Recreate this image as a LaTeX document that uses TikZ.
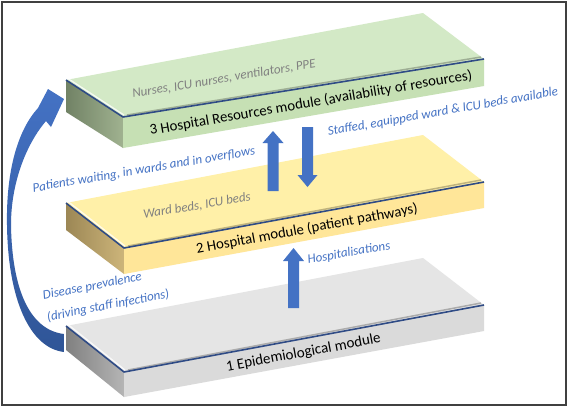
\documentclass[tikz,border=0pt]{standalone}
\usepackage{fontspec}
\setmainfont{Carlito}
\usetikzlibrary{calc}
\definecolor{frame}{HTML}{404040}
\definecolor{arrowblue}{HTML}{4472C4}
\definecolor{arrowdark}{HTML}{2F5597}
\definecolor{edgeblue}{HTML}{2F4B85}
\definecolor{txtblue}{HTML}{4472C4}
\definecolor{txtgray}{HTML}{808080}
\definecolor{gtop}{HTML}{D3E9C6}
\definecolor{gfront}{HTML}{C6E0B4}
\definecolor{gleftA}{HTML}{718265}
\definecolor{gleftB}{HTML}{A0B290}
\definecolor{ytop}{HTML}{FFF0A8}
\definecolor{yfront}{HTML}{FFE699}
\definecolor{yleftA}{HTML}{9C8755}
\definecolor{yleftB}{HTML}{CDB57A}
\definecolor{ktop}{HTML}{E5E5E5}
\definecolor{kfront}{HTML}{DADADA}
\definecolor{kleftA}{HTML}{808080}
\definecolor{kleftB}{HTML}{B5B5B5}
\tikzset{
  modtext/.style={font=\fontsize{14.8}{17}\selectfont, text=black, inner sep=0pt},
  graytext/.style={font=\fontsize{13}{15}\selectfont\itshape, text=txtgray, inner sep=0pt},
  bluetext/.style={font=\fontsize{13}{15}\selectfont\itshape, text=txtblue, inner sep=0pt},
  edgeline/.style={draw=edgeblue, line width=1.6pt, line join=round},
  hilite/.style={draw=white, line width=1.2pt, opacity=0.8},
  shadowline/.style={draw=black, line width=1.5pt, opacity=0.25},
  blockarrow/.style={fill=arrowblue},
}
\begin{document}
\begin{tikzpicture}[x=1pt,y=-1pt]
\useasboundingbox (0,0) rectangle (570,408);
\fill[white] (0,0) rectangle (570,408);

% ---------- slab 1 (grey) ----------
\coordinate (aL) at (66,326); \coordinate (aF) at (124,372);
\coordinate (aR) at (484,305); \coordinate (aB) at (423,258);
\coordinate (aLb) at (66,350); \coordinate (aFb) at (124,397);
\coordinate (aRb) at (484,331);
\shade[left color=kleftA, right color=kleftB] (aL) -- (aF) -- (aFb) -- (aLb) -- cycle;
\fill[kfront] (aF) -- (aR) -- (aRb) -- (aFb) -- cycle;
\fill[ktop] (aL) -- (aF) -- (aR) -- (aB) -- cycle;
\draw[shadowline] ($(aF)+(4,-2)$) -- ($(aR)+(-3,-2)$);
\draw[hilite] ($(aL)+(2,-1.5)$) -- ($(aF)+(1,-2)$);
\draw[edgeline] (aL) -- (aF) -- (aR);

% ---------- slab 2 (yellow) ----------
\coordinate (bL) at (66,203); \coordinate (bF) at (124,248);
\coordinate (bR) at (484,182); \coordinate (bB) at (423,135);
\coordinate (bLb) at (66,230); \coordinate (bFb) at (124,274);
\coordinate (bRb) at (484,208);
\shade[left color=yleftA, right color=yleftB] (bL) -- (bF) -- (bFb) -- (bLb) -- cycle;
\fill[yfront] (bF) -- (bR) -- (bRb) -- (bFb) -- cycle;
\fill[ytop] (bL) -- (bF) -- (bR) -- (bB) -- cycle;
\draw[shadowline] ($(bF)+(4,-2)$) -- ($(bR)+(-3,-2)$);
\draw[hilite] ($(bL)+(2,-1.5)$) -- ($(bF)+(1,-2)$);
\draw[edgeline] (bL) -- (bF) -- (bR);

% ---------- slab 3 (green) ----------
\coordinate (cL) at (66,80); \coordinate (cF) at (123,117);
\coordinate (cR) at (484,59); \coordinate (cB) at (423,13);
\coordinate (cLb) at (66,112); \coordinate (cFb) at (123,148);
\coordinate (cRb) at (484,86);
\shade[left color=gleftA, right color=gleftB] (cL) -- (cF) -- (cFb) -- (cLb) -- cycle;
\fill[gfront] (cF) -- (cR) -- (cRb) -- (cFb) -- cycle;
\fill[gtop] (cL) -- (cF) -- (cR) -- (cB) -- cycle;
\draw[shadowline] ($(cF)+(4,-2)$) -- ($(cR)+(-3,-2)$);
\draw[hilite] ($(cL)+(2,-1.5)$) -- ($(cF)+(1,-2)$);
\draw[edgeline] (cL) -- (cF) -- (cR);

% ---------- texts on slabs ----------
\node[modtext, rotate=9.8] (t3) at (311,103) {3 Hospital Resources module (availability of resources)};
\node[graytext, rotate=9.5] (r3) at (224,79) {Nurses, ICU nurses, ventilators, PPE};
\node[modtext, rotate=10.4] (t2) at (307,229) {2 Hospital module (patient pathways)};
\node[graytext, rotate=9.5] (r2) at (197,206) {Ward beds, ICU beds};
\node[modtext, font=\fontsize{15}{17}\selectfont, rotate=10.5] (t1) at (303.5,353) {1 Epidemiological module};

% ---------- block arrows ----------
% up arrow slab2 -> slab3
\fill[blockarrow] (267.5,191) -- (267.5,143) -- (262.5,143) -- (273,131) -- (283.5,143) -- (278.5,143) -- (278.5,191) -- cycle;
% down arrow slab3 -> slab2
\fill[blockarrow] (302,127) -- (313,127) -- (313,175) -- (317.5,175) -- (307.5,187) -- (297.5,175) -- (302,175) -- cycle;
% up arrow slab1 -> slab2
\fill[blockarrow] (288,308) -- (288,261) -- (283,261) -- (293.5,248) -- (304,261) -- (299,261) -- (299,308) -- cycle;
% curved arrow slab1 -> slab3
\shade[top color=arrowblue, bottom color=arrowdark]
  (64,352) .. controls (30,348) and (8,300) .. (7,225)
  .. controls (6,170) and (18,130) .. (38,108)
  -- (48,89) -- (64,99) -- (51,127) -- (46,121)
  .. controls (28,142) and (11,180) .. (11,225)
  .. controls (12,290) and (30,330) .. (64,334) -- cycle;

% ---------- blue labels ----------
\node[bluetext, rotate=10] (l1) at (443,112) {Staffed, equipped ward \& ICU beds available};
\node[bluetext, rotate=9.6] (l2) at (144,170) {Patients waiting, in wards and in overflows};
\node[bluetext, rotate=10] (l3) at (349,253) {Hospitalisations};
\node[bluetext, font=\fontsize{13}{22}\selectfont\itshape, rotate=11, anchor=west, align=left] (l4) at (45,307) {Disease prevalence\\(driving staff infections)};

% ---------- frame ----------
\draw[frame, line width=2pt] (2,2) rectangle (566,405);
\end{tikzpicture}
\end{document}
